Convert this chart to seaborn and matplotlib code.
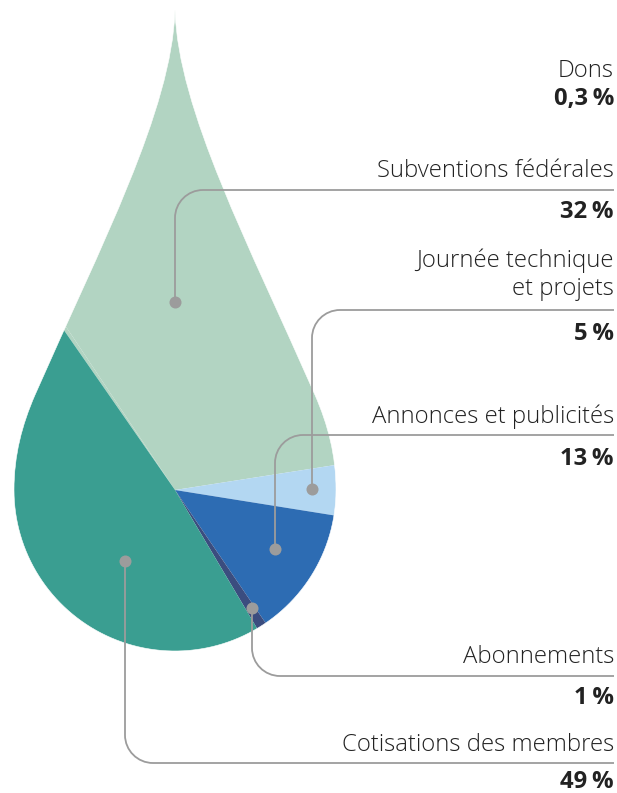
import numpy as np
import matplotlib
matplotlib.use("Agg")
import matplotlib.pyplot as plt
from matplotlib.path import Path
from matplotlib.patches import PathPatch
import seaborn as sns

sns.set_theme(style="white")
plt.rcParams['font.family'] = ['Open Sans', 'DejaVu Sans']

# ---- data ----
categories = ["Dons", "Subventions fédérales", "Journée technique\net projets",
              "Annonces et publicités", "Abonnements", "Cotisations des membres"]
values = [0.3, 32, 5, 13, 1, 49]
value_labels = ["0,3\u202f%", "32\u202f%", "5\u202f%", "13\u202f%", "1\u202f%", "49\u202f%"]
colors = ["#b2d4c2", "#b2d4c2", "#b3d7f2", "#2d6cb3", "#3b4d7f", "#3a9e91"]

W, H = 617, 793
fig = plt.figure(figsize=(W / 100, H / 100), dpi=100)
ax = fig.add_axes([0, 0, 1, 1])

def Y(py):
    return H - py

# drop geometry in pixel space (top-left origin)
cxp, cyp, r = 175, 490, 161

def drop_verts():
    tip = (cxp, 10)
    # right side: tip -> straight flank -> widest point
    right = [(cxp + 3, 110), (cxp + 74, 245), (cxp + 140, 395),
             (cxp + 153, 425), (cxp + r, 455), (cxp + r, cyp)]
    codes = [Path.MOVETO] + [Path.CURVE4] * 6
    verts = [tip] + right
    # bottom arc
    for a in np.linspace(0, 180, 90)[1:]:
        ar = np.deg2rad(a)
        verts.append((cxp + r * np.cos(ar), cyp + r * np.sin(ar)))
        codes.append(Path.LINETO)
    # left side (mirror, reversed)
    left = [(2 * cxp - x, y) for (x, y) in right[::-1]][1:] + [tip]
    verts += left
    codes += [Path.CURVE4] * 6
    return [(x, Y(y)) for x, y in verts], codes

dv, dc = drop_verts()

wedges, _ = ax.pie(values, colors=colors, startangle=124.8, counterclock=False,
                   center=(cxp, Y(cyp)), radius=600,
                   wedgeprops=dict(linewidth=0, antialiased=True))
for w in wedges:
    w.set_zorder(1)

# white mask outside the drop
big = [(-2000, -2000), (3000, -2000), (3000, 3000), (-2000, 3000), (-2000, -2000)]
mverts = big + dv + [dv[0]]
mcodes = [Path.MOVETO, Path.LINETO, Path.LINETO, Path.LINETO, Path.CLOSEPOLY] + dc + [Path.CLOSEPOLY]
ax.add_patch(PathPatch(Path(mverts, mcodes), facecolor="white", edgecolor="white",
                       lw=0.4, zorder=2))

ax.set_xlim(0, W)
ax.set_ylim(0, H)
ax.set_aspect("auto")
ax.axis("off")

# ---- callouts ----
line_c = "#9c9c9c"
xr = 614
rad = 28
kap = 0.5523

def callout(dot, yline):
    dx, dyp = dot
    d0, yl = Y(dyp), Y(yline)
    s = 1 if yl > d0 else -1
    verts = [(dx, d0), (dx, yl - s * rad),
             (dx, yl - s * rad * (1 - kap)), (dx + rad * (1 - kap), yl), (dx + rad, yl),
             (xr, yl)]
    codes = [Path.MOVETO, Path.LINETO, Path.CURVE4, Path.CURVE4, Path.CURVE4, Path.LINETO]
    ax.add_patch(PathPatch(Path(verts, codes), facecolor="none",
                           edgecolor=line_c, lw=1.3, zorder=3))
    ax.scatter([dx], [d0], s=75, color=line_c, zorder=4, linewidths=0)

callout((175, 302), 190)
callout((312, 489), 310)
callout((275, 549), 435)
callout((252, 608), 676)
callout((125, 561), 763)

fs = 17.2
txt = "#222222"
def lab(y, s, bold=False):
    ax.text(xr, Y(y), s, ha="right", va="baseline", fontsize=fs, color=txt,
            fontweight="bold" if bold else "light", zorder=5)

lab(77, categories[0])
lab(105, value_labels[0], True)
lab(177, categories[1])
lab(218, value_labels[1], True)
j1, j2 = categories[2].split("\n")
lab(267, j1)
lab(295, j2)
lab(340, value_labels[2], True)
lab(423, categories[3])
lab(465, value_labels[3], True)
lab(663, categories[4])
lab(704, value_labels[4], True)
lab(751, categories[5])
lab(788, value_labels[5], True)

fig.savefig("out.png", dpi=100, facecolor="white")
